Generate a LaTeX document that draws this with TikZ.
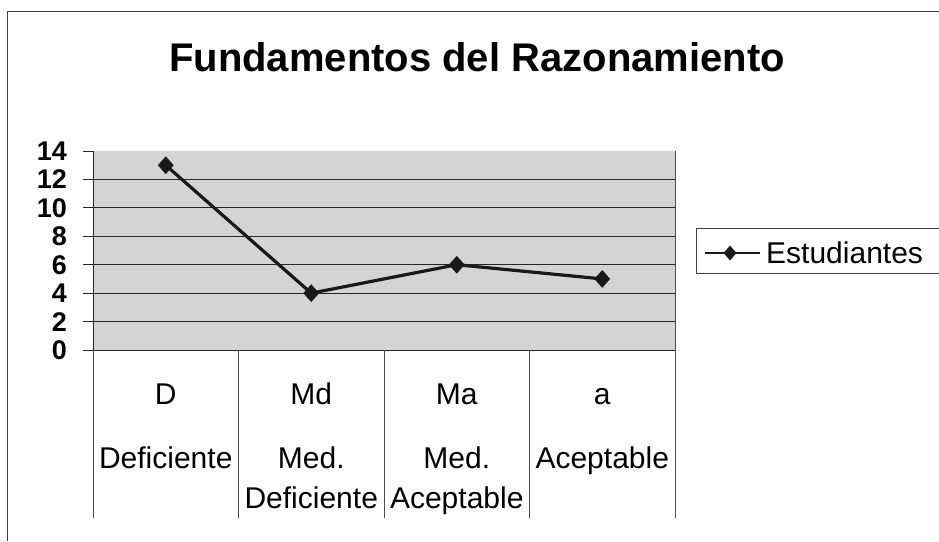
\documentclass[tikz,border=0pt]{standalone}
\usepackage{fontspec}
\setmainfont{Liberation Sans}
\usetikzlibrary{positioning,shapes.geometric}
\begin{document}
\begin{tikzpicture}[x=1pt,y=-1pt,
	gridline/.style={black!85,line width=1pt},
	divline/.style={black!70,line width=0.7pt},
	dataline/.style={black!90,line width=3.2pt},
	datamark/.style={diamond,fill=black!90,inner sep=0pt,minimum width=16pt,minimum height=18pt},
	catlabel/.style={font=\fontsize{30}{30}\selectfont,inner sep=0pt,anchor=base},
	ticklabel/.style={font=\bfseries\fontsize{27}{27}\selectfont,inner sep=0pt,anchor=east}]
	\useasboundingbox (0,0) rectangle (939,541);
	%Outer frame, only top and left edge are visible
	\coordinate (frameBL) at (7,541);
	\coordinate (frameTL) at (7,11);
	\coordinate (frameTR) at (939,11);
	\draw[black!75,line width=0.8pt] (frameBL) -- (frameTL) -- (frameTR);
	%Title
	\node[font=\bfseries\fontsize{40}{40}\selectfont] (title) at (477,57) {Fundamentos del Razonamiento};
	%Plot area
	\coordinate (plotTL) at (93,151);
	\coordinate (plotBR) at (675,350);
	\fill[black!17] (plotTL) rectangle (plotBR);
	%Grid lines, ticks and values of the axis
	\foreach \v in {0,2,...,14} {
		\pgfmathsetmacro\py{350-14.214*\v}
		\coordinate (tick\v) at (83,\py);
		\coordinate (left\v) at (93,\py);
		\coordinate (right\v) at (675,\py);
		\draw[gridline] (tick\v) -- (left\v);
		\node[ticklabel] (val\v) at (67,\py) {\v};
	}
	\foreach \v in {0,2,...,12} {
		\draw[gridline] (left\v) -- (right\v);
	}
	\draw[gridline] (left0) -- (left14);
	\draw[divline] (right0) -- (right14);
	%Category columns below the plot
	\foreach \i in {0,...,4} {
		\pgfmathsetmacro\dx{93+145.5*\i}
		\coordinate (divTop\i) at (\dx,350);
		\coordinate (divBot\i) at (\dx,518);
		\draw[divline] (divTop\i) -- (divBot\i);
	}
	%Category labels
	\foreach \code/\first/\second [count=\i from 0] in {D/Deficiente/{},Md/Med./Deficiente,Ma/Med./Aceptable,a/Aceptable/{}} {
		\pgfmathsetmacro\cx{165.75+145.5*\i}
		\node[catlabel] (code\i) at (\cx,404) {\code};
		\node[catlabel] (first\i) at (\cx,468) {\first};
		\node[catlabel] (second\i) at (\cx,508) {\second};
	}
	%Data points
	\foreach \v [count=\i from 0] in {13,4,6,5} {
		\pgfmathsetmacro\px{165.75+145.5*\i}
		\pgfmathsetmacro\py{350-14.214*\v}
		\coordinate (p\i) at (\px,\py);
	}
	\draw[dataline] (p0) -- (p1) -- (p2) -- (p3);
	\foreach \i in {0,...,3} {
		\node[datamark] (m\i) at (p\i) {};
	}
	%Legend
	\coordinate (legTR) at (939,228);
	\coordinate (legTL) at (696,228);
	\coordinate (legBL) at (696,273);
	\coordinate (legBR) at (939,273);
	\draw[black!75,line width=0.8pt] (legTR) -- (legTL) -- (legBL) -- (legBR);
	\coordinate (legA) at (705,253);
	\coordinate (legB) at (760,253);
	\draw[black!90,line width=2pt] (legA) -- (legB);
	\node[datamark,minimum width=13pt,minimum height=15pt] (legMark) at (730,253) {};
	\node[font=\fontsize{30}{30}\selectfont,inner sep=0pt,anchor=west] (legText) at (766,253) {Estudiantes};
\end{tikzpicture}
\end{document}
